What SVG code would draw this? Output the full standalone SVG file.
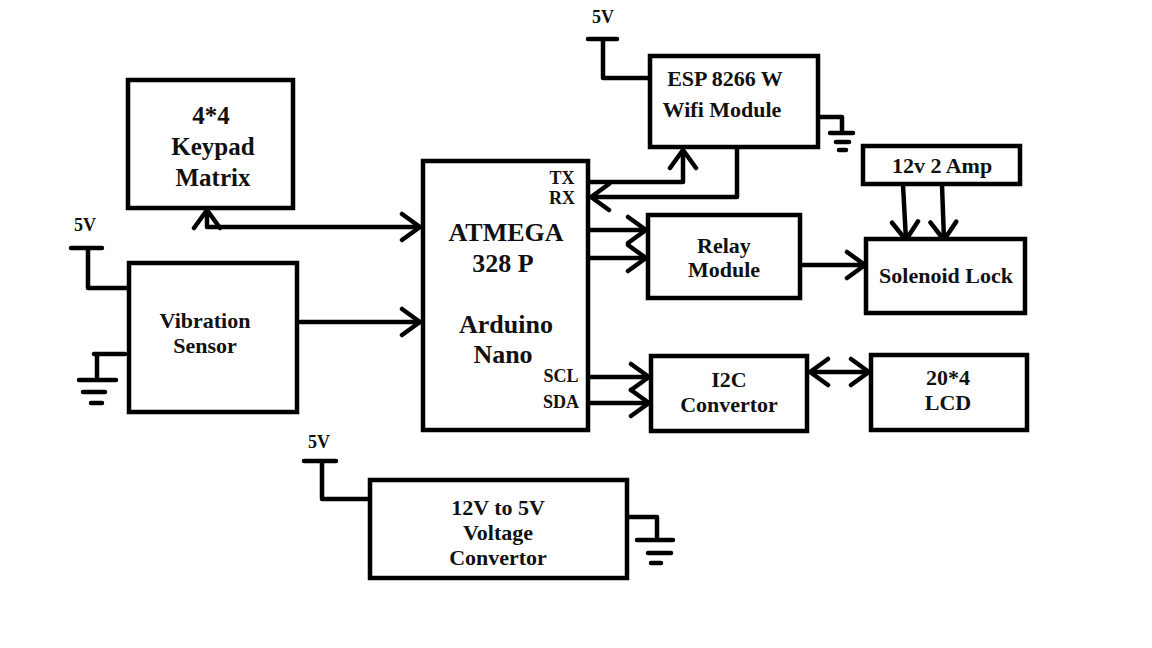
<svg xmlns="http://www.w3.org/2000/svg" width="1152" height="648" viewBox="0 0 1152 648">
<style>
.box{fill:#fff;stroke:#000;stroke-width:4.5}
.ln{fill:none;stroke:#000;stroke-width:4.5;stroke-linecap:round;stroke-linejoin:round}
.t{font-family:"Liberation Serif","Times New Roman",serif;font-weight:bold;fill:#111;text-anchor:middle}
.t26{font-size:26px}.t25{font-size:25px}.t22{font-size:22px}.t18{font-size:18px}
</style>
<defs>
<marker id="ah" viewBox="-22 -16 26 32" markerWidth="26" markerHeight="32" refX="0" refY="0" markerUnits="userSpaceOnUse" orient="auto-start-reverse">
<path d="M-18,-13 L0,0 L-18,13" fill="none" stroke="#000" stroke-width="4.5" stroke-linecap="round" stroke-linejoin="round"/>
</marker>
</defs>
<rect width="1152" height="648" fill="#fff"/>

<g id="connectors">
<path class="ln" d="M207,210 L207,227 L420,227" marker-start="url(#ah)" marker-end="url(#ah)"/>
<path class="ln" d="M300,322 L420,322" marker-end="url(#ah)"/>
<path class="ln" d="M590,182 L683,182 L683,150" marker-end="url(#ah)"/>
<path class="ln" d="M737,149 L737,197 L591,197" marker-end="url(#ah)"/>
<path class="ln" d="M590,230 L646,230" marker-end="url(#ah)"/>
<path class="ln" d="M590,258 L646,258" marker-end="url(#ah)"/>
<path class="ln" d="M802,265 L865,265" marker-end="url(#ah)"/>
<path class="ln" d="M903,185 L906,240" marker-end="url(#ah)"/>
<path class="ln" d="M942,185 L944,240" marker-end="url(#ah)"/>
<path class="ln" d="M590,377 L649,377" marker-end="url(#ah)"/>
<path class="ln" d="M590,403 L649,403" marker-end="url(#ah)"/>
<path class="ln" d="M810,372 L869,372" marker-start="url(#ah)" marker-end="url(#ah)"/>
</g>

<g id="power">
<text class="t t18" x="603" y="23">5V</text>
<path class="ln" d="M588,39 L617,39 M603,39 L603,78 L648,78"/>
<path class="ln" d="M820,117 L842,117 L842,133 M830,133 L853,133 M836,142 L849,142 M839,150 L846,150"/>
<text class="t t18" x="85" y="231">5V</text>
<path class="ln" d="M71,248 L102,248 M88,248 L88,288 L127,288"/>
<path class="ln" d="M125,354 L94,354 M97,354 L97,380 M79,380 L116,380 M83,392 L105,392 M91,403 L102,403"/>
<text class="t t18" x="319" y="448">5V</text>
<path class="ln" d="M304,461 L336,461 M322,461 L322,499 L368,499"/>
<path class="ln" d="M629,517 L657,517 L657,540 M637,540 L673,540 M648,553 L671,553 M651,563 L661,563"/>
</g>

<g id="keypad">
<rect class="box" x="128" y="80" width="165" height="128"/>
<text class="t t25" x="211" y="124">4*4</text>
<text class="t t25" x="213" y="155">Keypad</text>
<text class="t t25" x="213" y="186">Matrix</text>
</g>

<g id="vibration">
<rect class="box" x="129" y="263" width="168" height="149"/>
<text class="t t22" x="205" y="328">Vibration</text>
<text class="t t22" x="205" y="353">Sensor</text>
</g>

<g id="atmega">
<rect class="box" x="423" y="161" width="165" height="269"/>
<text class="t t26" x="506" y="241">ATMEGA</text>
<text class="t t26" x="503" y="272">328 P</text>
<text class="t t26" x="506" y="333">Arduino</text>
<text class="t t26" x="503" y="363">Nano</text>
<text class="t t18" x="562" y="184">TX</text>
<text class="t t18" x="562" y="204">RX</text>
<text class="t t18" x="561" y="382">SCL</text>
<text class="t t18" x="561" y="408">SDA</text>
</g>

<g id="esp">
<rect class="box" x="650" y="56" width="168" height="91"/>
<text class="t t22" x="725" y="86">ESP 8266 W</text>
<text class="t t22" x="722" y="117">Wifi Module</text>
</g>

<g id="relay">
<rect class="box" x="648" y="215" width="152" height="83"/>
<text class="t t22" x="724" y="253">Relay</text>
<text class="t t22" x="724" y="277">Module</text>
</g>

<g id="supply12v">
<rect class="box" x="863" y="146" width="157" height="38"/>
<text class="t t22" x="942" y="173">12v 2 Amp</text>
</g>

<g id="solenoid">
<rect class="box" x="866" y="239" width="159" height="74"/>
<text class="t t22" x="946" y="283">Solenoid Lock</text>
</g>

<g id="i2c">
<rect class="box" x="651" y="356" width="156" height="75"/>
<text class="t t22" x="729" y="387">I2C</text>
<text class="t t22" x="729" y="412">Convertor</text>
</g>

<g id="lcd">
<rect class="box" x="871" y="355" width="156" height="75"/>
<text class="t t22" x="948" y="385">20*4</text>
<text class="t t22" x="948" y="410">LCD</text>
</g>

<g id="converter">
<rect class="box" x="370" y="480" width="257" height="98"/>
<text class="t t22" x="498" y="515">12V to 5V</text>
<text class="t t22" x="498" y="540">Voltage</text>
<text class="t t22" x="498" y="565">Convertor</text>
</g>
</svg>
